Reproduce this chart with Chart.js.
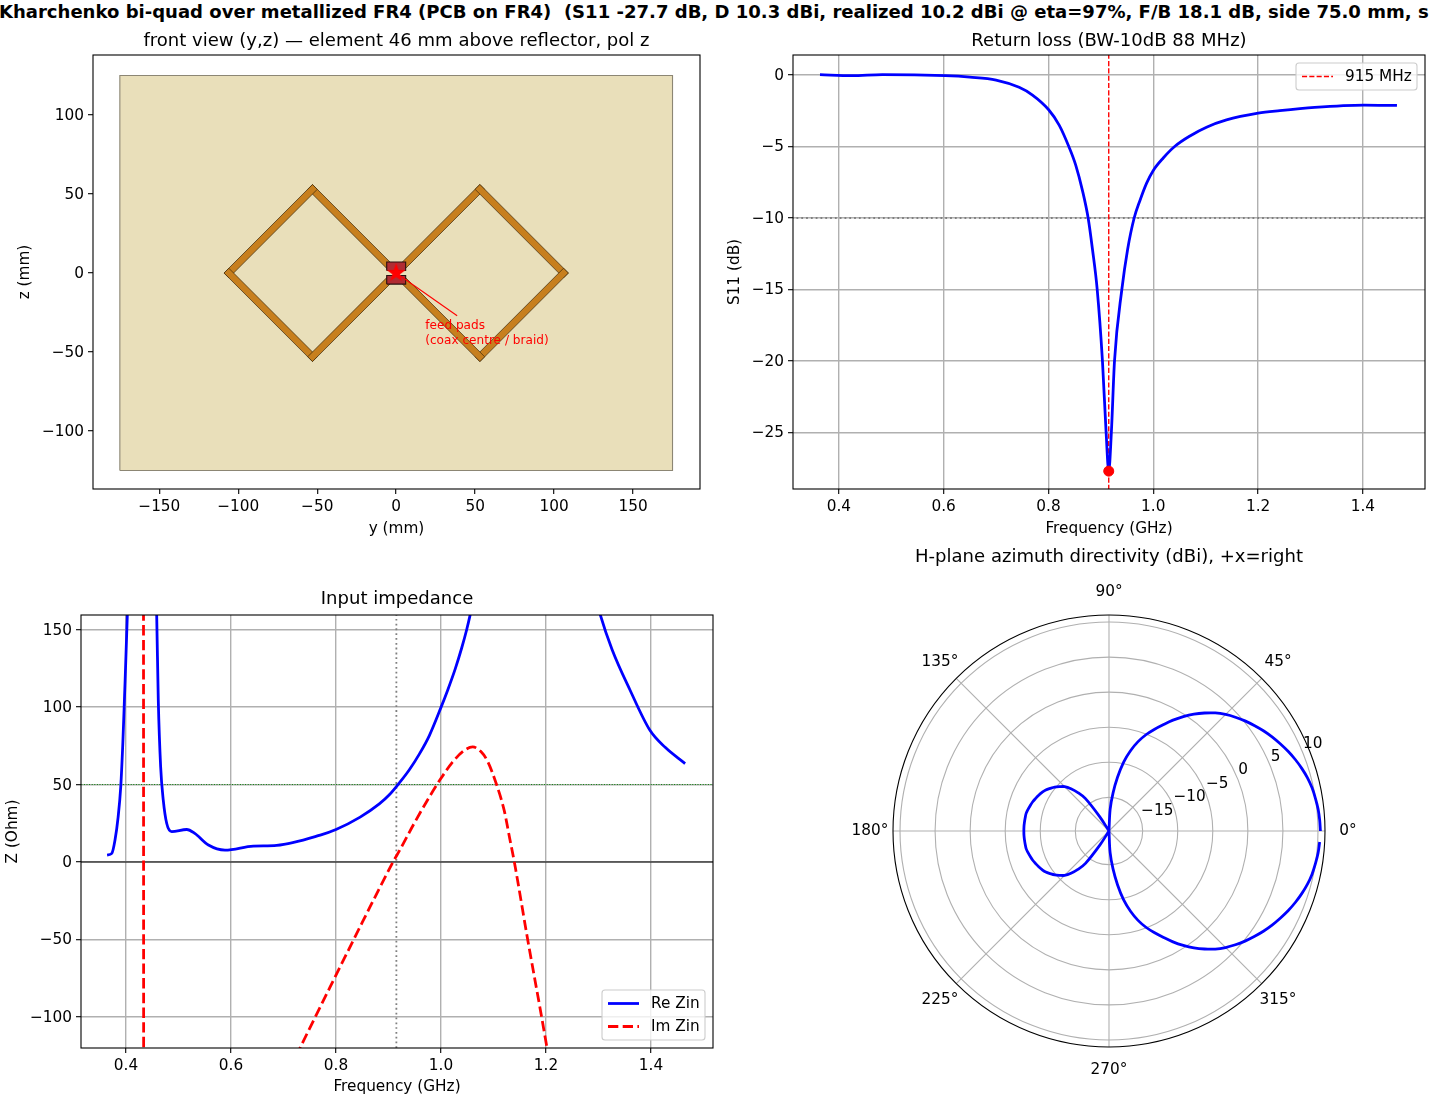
<!DOCTYPE html>
<html>
<head>
<meta charset="utf-8">
<title>Kharchenko bi-quad</title>
<script src="https://cdn.jsdelivr.net/npm/chart.js@4/dist/chart.umd.min.js"></script>
<style>
    html, body { margin: 0; padding: 0; background: #fff; overflow: hidden; }
    #page { position: relative; width: 1430px; height: 1100px; overflow: hidden; }
    #page canvas { position: absolute; }
    #suptitle { position: absolute; left: -1px; top: 1px; white-space: pre; font: bold 18.05px "DejaVu Sans"; color: #000; }
</style>
</head>
<body>
<div id="page">
    <div id="suptitle">Kharchenko bi-quad over metallized FR4 (PCB on FR4)  (S11 -27.7 dB, D 10.3 dBi, realized 10.2 dBi @ eta=97%, F/B 18.1 dB, side 75.0 mm, s</div>
    <canvas id="front" width="705" height="510" style="left:0;top:30px"></canvas>
    <canvas id="s11" width="708" height="510" style="left:722px;top:30px"></canvas>
    <canvas id="zin" width="718" height="510" style="left:0;top:588px"></canvas>
    <canvas id="polar" width="532" height="536" style="left:843px;top:546px"></canvas>
</div>
<script>
// front view, mm
var boardY = [-175, 175, 175, -175, -175];
var boardZ = [-125, -125, 125, 125, -125];
var traceWidth = 4.3;
var traceSegments = [
    [-5, 5, -53, 53], [-53, 53, -106, 0], [-106, 0, -53, -53], [-53, -53, -5, -5],
    [5, 5, 53, 53], [53, 53, 106, 0], [106, 0, 53, -53], [53, -53, 5, -5]
];
var upperPadY = [-6, 6, 6, -6, -6];
var upperPadZ = [1.6, 1.6, 7, 7, 1.6];
var lowerPadY = [-6, 6, 6, -6, -6];
var lowerPadZ = [-7, -7, -1.6, -1.6, -7];
var feedLeaderY = [0, 38.6];
var feedLeaderZ = [0, -27];
var frontTicksY = [-150, -100, -50, 0, 50, 100, 150];
var frontTicksZ = [-100, -50, 0, 50, 100];

// return loss
var s11Freq = [0.364, 0.425, 0.483, 0.603, 0.65, 0.70, 0.744, 0.7695, 0.80, 0.8204, 0.8394, 0.852, 0.865, 0.8757, 0.884, 0.893, 0.903, 0.91, 0.915, 0.92, 0.926, 0.94, 0.951, 0.9635, 0.9746, 0.9873, 1.0, 1.019, 1.0413, 1.07, 1.1016, 1.1397, 1.2, 1.2413, 1.308, 1.402, 1.465];
var s11Db = [0.03, -0.05, 0.03, -0.05, -0.15, -0.35, -0.86, -1.4, -2.41, -3.5, -5.05, -6.3, -8.1, -10, -12.2, -15, -20, -25, -27.7, -25, -20, -15, -12.2, -10, -8.77, -7.56, -6.67, -5.8, -4.98, -4.26, -3.65, -3.14, -2.67, -2.49, -2.26, -2.1, -2.13];
var s11TicksX = [0.4, 0.6, 0.8, 1.0, 1.2, 1.4];
var s11TicksY = [-25, -20, -15, -10, -5, 0];
var targetFreq = 0.915;
var targetDb = -27.7;
var limitDb = -10;

// input impedance
var reFreq = [0.364, 0.373, 0.379, 0.385, 0.39, 0.394, 0.397, 0.4025, 0.41, 0.43, 0.45, 0.4585, 0.4615, 0.466, 0.471, 0.4775, 0.487, 0.5156, 0.531, 0.557, 0.5886, 0.6425, 0.687, 0.77, 0.8, 0.846, 0.8825, 0.9016, 0.9206, 0.9397, 0.9587, 0.9778, 1.0, 1.0127, 1.0273, 1.0394, 1.0489, 1.0552, 1.08, 1.18, 1.25, 1.303, 1.326, 1.36, 1.398, 1.427, 1.465];
var reOhm = [4.5, 5.6, 14, 29, 48.6, 77, 104.5, 159, 260, 500, 260, 159, 104.5, 61.5, 40, 25, 19.6, 21, 18.5, 11, 7.7, 10.3, 10.8, 17.4, 21, 29, 37.5, 43.4, 51, 59.5, 69.6, 81.6, 99.8, 110.9, 124.8, 138.1, 149.9, 159, 200, 300, 230, 160, 137, 111, 85, 74, 63.5];
var imFreq = [0.365, 0.40, 0.433, 0.434, 0.46, 0.60, 0.7314, 0.8, 0.85, 0.908, 0.922, 0.949, 0.9778, 1.0, 1.022, 1.0444, 1.0603, 1.076, 1.0889, 1.1048, 1.1206, 1.131, 1.1397, 1.1651, 1.1917, 1.202, 1.3, 1.465];
var imOhm = [300, 600, 400, -400, -400, -212, -120, -73, -39, -0.4, 8, 25, 42, 54, 64.5, 72, 74.3, 71.3, 64.9, 51, 33, 15, 0, -50, -100, -120, -300, -450];
var zinTicksX = [0.4, 0.6, 0.8, 1.0, 1.2, 1.4];
var zinTicksY = [-100, -50, 0, 50, 100, 150];
var refOhm = 50;

// azimuth directivity in dBi, one value every 3 deg going from 357 deg down to 0 deg
var polarDb = [
    10.28, 10.18, 10.0, 9.8, 9.5, 9.1, 8.65, 8.15, 7.6, 7.05,
    6.45, 5.8, 5.15, 4.45, 3.7, 2.85, 1.85, 0.8, -0.35, -1.55,
    -2.8, -3.95, -5.1, -6.4, -7.95, -9.75, -12.05, -14.4, -16.7, -19.8,
    -19.8, -19.8, -19.8, -19.8, -19.8, -19.8, -19.8, -19.8, -19.8, -19.8,
    -17.4, -14.1, -12.75, -11.7, -10.85, -10.35, -9.85, -9.45, -9.05, -8.78,
    -8.55, -8.35, -8.15, -8, -7.85, -7.72, -7.7, -7.68, -7.66, -7.66,
    -7.66, -7.68, -7.7, -7.72, -7.85, -8, -8.15, -8.35, -8.55, -8.78,
    -9.05, -9.45, -9.85, -10.35, -10.85, -11.7, -12.75, -14.1, -17.4, -19.8,
    -19.8, -19.8, -19.8, -19.8, -19.8, -19.8, -19.8, -19.8, -19.8, -19.8,
    -16.7, -14.4, -12.05, -9.75, -7.95, -6.4, -5.1, -3.95, -2.8, -1.55,
    -0.35, 0.8, 1.85, 2.85, 3.7, 4.45, 5.15, 5.8, 6.45, 7.05,
    7.6, 8.15, 8.65, 9.1, 9.5, 9.8, 10.0, 10.18, 10.28, 10.35
];
var polarTicksR = [-15, -10, -5, 0, 5, 10];
var polarAngleLabels = [0, 45, 90, 135, 180, 225, 270, 315];

var TICK_FONT = 15.3;

Chart.defaults.font.family = '"DejaVu Sans"';
Chart.defaults.font.size = TICK_FONT;
Chart.defaults.color = '#000';
Chart.defaults.animation = false;
Chart.defaults.plugins.legend.display = false;
Chart.defaults.plugins.tooltip.enabled = false;
Chart.defaults.layout.autoPadding = false;

var GRID = '#b0b0b0';
var LINE = 2.78;
var DOTTED = [1.8, 3];

function minus(v) {
    return String(v).replace('-', '\u2212');
}

function toPoints(xs, ys) {
    return xs.map(function (x, i) { return { x: x, y: ys[i] }; });
}

// one copper strip, square ended so the corners overlap
function rectFromSegment(seg) {
    var dx = seg[2] - seg[0], dy = seg[3] - seg[1];
    var len = Math.sqrt(dx * dx + dy * dy);
    var ux = dx / len * traceWidth / 2, uy = dy / len * traceWidth / 2;
    var ax = seg[0] - ux, ay = seg[1] - uy, bx = seg[2] + ux, by = seg[3] + uy;
    return [
        { x: ax - uy, y: ay + ux }, { x: bx - uy, y: by + ux },
        { x: bx + uy, y: by - ux }, { x: ax + uy, y: ay - ux },
        { x: ax - uy, y: ay + ux }
    ];
}

function axis(ticks, min, max, title, size, titlePad, showGrid, decimals) {
    return {
        type: 'linear', min: min, max: max,
        afterBuildTicks: function (s) { s.ticks = ticks.map(function (v) { return { value: v }; }); },
        afterFit: function (s) { if (s.isHorizontal()) { s.height = size; } else { s.width = size; } },
        border: { display: false },
        grid: { drawOnChartArea: showGrid, color: GRID, lineWidth: 1.4, tickColor: '#000', tickWidth: 1.1, tickLength: 5 },
        ticks: {
            padding: 4, autoSkip: false, maxRotation: 0, color: '#000',
            labelOffset: titlePad.top !== undefined ? 1 : 0,
            callback: function (v) { return decimals ? Number(v).toFixed(decimals) : minus(v); }
        },
        title: { display: true, text: title, color: '#000', padding: titlePad, font: { size: TICK_FONT } }
    };
}

function subTitle(text, below) {
    return { display: true, text: text, color: '#000', fullSize: false, padding: { top: 1.5, bottom: below - 1.5 }, font: { size: 18.05, weight: 'normal', lineHeight: '20px' } };
}

function line(data, color, width, dash, order) {
    return {
        data: data, showLine: true, borderColor: color, borderWidth: width, borderDash: dash || [],
        pointRadius: 0, fill: false, clip: 0, order: order
    };
}

var framePlugin = {
    id: 'frame',
    afterDatasetsDraw: function (chart) {
        var a = chart.chartArea, c = chart.ctx;
        c.save();
        c.strokeStyle = '#000';
        c.lineWidth = 1.1;
        c.strokeRect(a.left, a.top, a.right - a.left, a.bottom - a.top);
        c.restore();
    }
};

// matplotlib style legend box: right edge 8px in from the axes, top or bottom corner
function boxLegend(items, w, h, corner) {
    return {
        id: 'boxLegend',
        afterDraw: function (chart) {
            var a = chart.chartArea, c = chart.ctx;
            var x = a.right - 8 - w;
            var y = corner === 'top' ? a.top + 8 : a.bottom - 8 - h;
            c.save();
            c.beginPath();
            c.roundRect(x, y, w, h, 3);
            c.fillStyle = 'rgba(255,255,255,0.8)';
            c.fill();
            c.strokeStyle = '#cccccc';
            c.lineWidth = 1.1;
            c.stroke();
            c.textAlign = 'left';
            c.textBaseline = 'middle';
            c.font = TICK_FONT + 'px "DejaVu Sans"';
            items.forEach(function (it, i) {
                var ly = y + 13.5 + i * 23;
                c.beginPath();
                c.setLineDash(it.dash || []);
                c.strokeStyle = it.color;
                c.lineWidth = it.width;
                c.moveTo(x + 6, ly);
                c.lineTo(x + 6 + 31, ly);
                c.stroke();
                c.setLineDash([]);
                c.fillStyle = '#000';
                c.fillText(it.text, x + 49, ly + 0.5);
            });
            c.restore();
        }
    };
}

// filled five point star for the feed marker
function starMarker(size) {
    var cv = document.createElement('canvas');
    cv.width = size; cv.height = size;
    var c = cv.getContext('2d');
    c.fillStyle = '#ff0000';
    c.beginPath();
    for (var i = 0; i < 10; i++) {
        var r = i % 2 ? size * 0.2 : size * 0.5;
        var t = -Math.PI / 2 + i * Math.PI / 5;
        c[i ? 'lineTo' : 'moveTo'](size / 2 + r * Math.cos(t), size / 2 + r * Math.sin(t));
    }
    c.closePath();
    c.fill();
    return cv;
}

// ---- front view
var frontSets = [];
frontSets.push({ data: toPoints(boardY, boardZ), showLine: true, fill: 'shape', backgroundColor: '#e9dfba', borderColor: '#8c8674', borderWidth: 1.1, pointRadius: 0, order: 30 });
traceSegments.forEach(function (seg, i) {
    frontSets.push({ data: rectFromSegment(seg), showLine: true, fill: 'shape', backgroundColor: '#c77f1e', borderColor: 'rgba(60,40,10,0.7)', borderWidth: 1, pointRadius: 0, order: 20 - i });
});
frontSets.push({ data: toPoints(upperPadY, upperPadZ), showLine: true, fill: 'shape', backgroundColor: '#b02c33', borderColor: '#2a1010', borderWidth: 1.1, pointRadius: 0, order: 5 });
frontSets.push({ data: toPoints(lowerPadY, lowerPadZ), showLine: true, fill: 'shape', backgroundColor: '#b02c33', borderColor: '#2a1010', borderWidth: 1.1, pointRadius: 0, order: 4 });
frontSets.push(line(toPoints(feedLeaderY, feedLeaderZ), '#ff0000', 1.1, [], 3));
frontSets.push({ data: [{ x: 0, y: 0 }], showLine: false, pointStyle: starMarker(20), pointRadius: 10, order: 2 });

var feedNote = {
    id: 'feedNote',
    afterDatasetsDraw: function (chart) {
        var c = chart.ctx, sx = chart.scales.x, sy = chart.scales.y;
        c.save();
        c.fillStyle = '#ff0000';
        c.font = '12.1px "DejaVu Sans"';
        c.textAlign = 'left';
        c.textBaseline = 'middle';
        c.fillText('feed pads', sx.getPixelForValue(18.4), sy.getPixelForValue(-33.5));
        c.fillText('(coax centre / braid)', sx.getPixelForValue(18.4), sy.getPixelForValue(-43));
        c.restore();
    }
};

new Chart(document.getElementById('front'), {
    type: 'scatter',
    data: { datasets: frontSets },
    options: {
        responsive: false,
        layout: { padding: { right: 5 } },
        plugins: { title: subTitle('front view (y,z) \u2014 element 46 mm above reflector, pol z', 5) },
        scales: {
            x: axis(frontTicksY, -192, 192.4, 'y (mm)', 51, { bottom: 1.8 }, false),
            y: axis(frontTicksZ, -136.7, 138, 'z (mm)', 93, { top: 15.8 }, false)
        }
    },
    plugins: [framePlugin, feedNote]
});

// ---- return loss
new Chart(document.getElementById('s11'), {
    type: 'scatter',
    data: {
        datasets: [
            { data: [{ x: targetFreq, y: targetDb }], showLine: false, pointRadius: 5, backgroundColor: '#ff0000', borderColor: '#ff0000', order: 1 },
            line(toPoints(s11Freq, s11Db), '#0000ff', LINE, [], 2),
            line(toPoints([targetFreq, targetFreq], [-29, 1.4]), '#ff0000', 1.39, [5.1, 2.2], 3),
            line(toPoints([0.31, 1.52], [limitDb, limitDb]), '#808080', 1.8, DOTTED, 4)
        ]
    },
    options: {
        responsive: false,
        layout: { padding: { right: 5 } },
        plugins: { title: subTitle('Return loss (BW-10dB 88 MHz)', 5) },
        elements: { line: { cubicInterpolationMode: 'monotone' } },
        scales: {
            x: axis(s11TicksX, 0.3125, 1.5185, 'Frequency (GHz)', 51, { bottom: 1.8 }, true, 1),
            y: axis(s11TicksY, -28.95, 1.4, 'S11 (dB)', 71, { top: 3.8 }, true)
        }
    },
    plugins: [framePlugin, boxLegend([{ text: '915 MHz', color: '#ff0000', width: 1.39, dash: [5.1, 2.2] }], 121, 27, 'top')]
});

// ---- input impedance
new Chart(document.getElementById('zin'), {
    type: 'scatter',
    data: {
        datasets: [
            line(toPoints(imFreq, imOhm), '#ff0000', LINE, [10.3, 4.4], 1),
            line(toPoints(reFreq, reOhm), '#0000ff', LINE, [], 2),
            line(toPoints([targetFreq, targetFreq], [-120, 160]), '#808080', 1.8, DOTTED, 3),
            line(toPoints([0.3, 1.53], [refOhm, refOhm]), '#008000', 1, [1, 1.6], 4),
            line(toPoints([0.3, 1.53], [0, 0]), '#000000', 1.1, [], 5)
        ]
    },
    options: {
        responsive: false,
        layout: { padding: { right: 5 } },
        plugins: { title: subTitle('Input impedance', 7) },
        elements: { line: { cubicInterpolationMode: 'monotone' } },
        scales: {
            x: axis(zinTicksX, 0.3143, 1.5181, 'Frequency (GHz)', 50, { bottom: 1.8 }, true, 1),
            y: axis(zinTicksY, -120, 159.4, 'Z (Ohm)', 81, { top: 3.8 }, true)
        }
    },
    plugins: [framePlugin, boxLegend([
        { text: 'Re Zin', color: '#0000ff', width: LINE },
        { text: 'Im Zin', color: '#ff0000', width: LINE, dash: [10.3, 4.4] }
    ], 103, 50, 'bottom')]
});

// ---- polar
function polarAngle(i) {
    return 357 - 3 * i;
}

var polarExtras = {
    id: 'polarExtras',
    afterDatasetsUpdate: function (chart) {
        // the pattern is not closed at 0 deg in the reference
        var ln = chart.getDatasetMeta(0).dataset;
        ln._loop = false;
        ln._fullLoop = false;
        ln._segments = undefined;
        ln._path = undefined;
    },
    afterDraw: function (chart) {
        var r = chart.scales.r, c = chart.ctx;
        c.save();
        c.strokeStyle = '#000';
        c.lineWidth = 1.1;
        c.beginPath();
        c.arc(r.xCenter, r.yCenter, r.drawingArea, 0, Math.PI * 2);
        c.stroke();
        c.fillStyle = '#000';
        c.font = TICK_FONT + 'px "DejaVu Sans"';
        c.textAlign = 'center';
        c.textBaseline = 'middle';
        polarAngleLabels.forEach(function (deg) {
            var t = deg * Math.PI / 180, d = r.drawingArea + 23;
            c.fillText(deg + '\u00b0', r.xCenter + d * Math.cos(t), r.yCenter - d * Math.sin(t));
        });
        c.textAlign = 'left';
        c.textBaseline = 'alphabetic';
        var lab = 22.5 * Math.PI / 180;
        polarTicksR.forEach(function (v) {
            var d = r.getDistanceFromCenterForValue(v);
            c.fillText(minus(v), r.xCenter + d * Math.cos(lab) + 1, r.yCenter - d * Math.sin(lab) - 3.5);
        });
        c.restore();
    }
};

new Chart(document.getElementById('polar'), {
    type: 'radar',
    data: {
        labels: polarDb.map(function (v, i) { return polarAngle(i) + '\u00b0'; }),
        datasets: [{ data: polarDb, borderColor: '#0000ff', borderWidth: LINE, pointRadius: 0, fill: false, tension: 0.35 }]
    },
    options: {
        responsive: false,
        layout: { padding: { left: 50, right: 50, bottom: 35 } },
        plugins: { title: subTitle('H-plane azimuth directivity (dBi), +x=right', 49) },
        scales: {
            r: {
                min: -19.8, max: 11, startAngle: 93,
                afterBuildTicks: function (s) { s.ticks = polarTicksR.map(function (v) { return { value: v }; }); },
                grid: { circular: true, color: GRID, lineWidth: 1.1 },
                angleLines: {
                    color: GRID,
                    lineWidth: function (ctx) { return polarAngle(ctx.index) % 45 === 0 ? 1.1 : 0; }
                },
                pointLabels: { display: false },
                ticks: { display: false }
            }
        }
    },
    plugins: [polarExtras]
});
</script>
</body>
</html>
